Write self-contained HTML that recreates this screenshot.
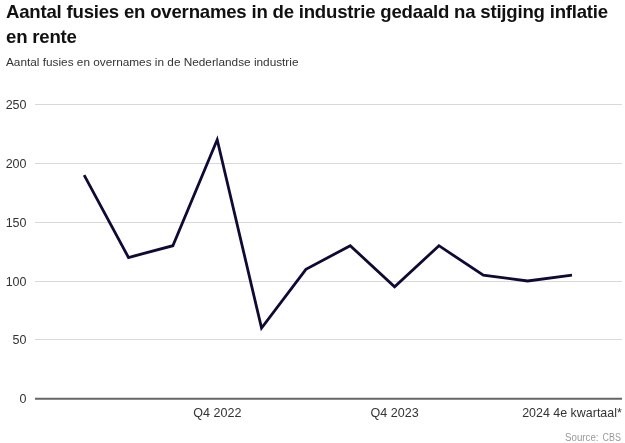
<!DOCTYPE html>
<html><head><meta charset="utf-8">
<style>
html,body{margin:0;padding:0;background:#fff;}
body{width:625px;height:443px;overflow:hidden;position:relative;font-family:"Liberation Sans",Arial,sans-serif;}
#title{position:absolute;left:6px;top:-0.3px;font-weight:bold;font-size:18.6px;line-height:24.8px;letter-spacing:-0.21px;color:#111;margin:0;white-space:nowrap;}
#sub{position:absolute;left:6px;top:54px;font-size:11.8px;line-height:16px;color:#333;white-space:nowrap;}
svg{position:absolute;left:0;top:0;will-change:transform;}
#title,#sub{will-change:transform;}
.yl{font-size:12.5px;fill:#333;text-anchor:end;}
.xl{font-size:12.2px;fill:#333;}
.src{font-size:10px;fill:#999;}
</style></head><body>
<div id="title">Aantal fusies en overnames in de industrie gedaald na stijging inflatie<br>en rente</div>
<div id="sub">Aantal fusies en overnames in de Nederlandse industrie</div>
<svg width="625" height="443" viewBox="0 0 625 443">
<g stroke="#d9d9d9" stroke-width="1">
<line x1="35" x2="622" y1="104.5" y2="104.5"/>
<line x1="35" x2="622" y1="163.5" y2="163.5"/>
<line x1="35" x2="622" y1="222.5" y2="222.5"/>
<line x1="35" x2="622" y1="281.5" y2="281.5"/>
<line x1="35" x2="622" y1="339.5" y2="339.5"/>
</g>
<line x1="35" x2="622" y1="398.8" y2="398.8" stroke="#666" stroke-width="2"/>
<g class="yl">
<text x="26.5" y="109">250</text>
<text x="26.5" y="168">200</text>
<text x="26.5" y="227">150</text>
<text x="26.5" y="286">100</text>
<text x="26.5" y="344">50</text>
<text x="26.5" y="403">0</text>
</g>
<polyline fill="none" stroke="#0f0a33" stroke-width="2.8" stroke-linejoin="miter" points="84.15,175.1 128.50,257.5 172.85,245.7 217.20,139.7 261.55,328.1 305.90,269.3 350.25,245.7 394.60,286.9 438.95,245.7 483.30,275.2 527.65,281.0 572.00,275.2"/>
<text class="xl" x="217.4" y="416.6" text-anchor="middle" textLength="48.2" lengthAdjust="spacingAndGlyphs">Q4 2022</text>
<text class="xl" x="394.6" y="416.6" text-anchor="middle" textLength="48.2" lengthAdjust="spacingAndGlyphs">Q4 2023</text>
<text class="xl" x="522.2" y="416.6" textLength="99.6" lengthAdjust="spacingAndGlyphs">2024 4e kwartaal*</text>
<text class="src" x="565" y="441" textLength="33.5" lengthAdjust="spacingAndGlyphs">Source:</text><text class="src" x="602.6" y="441" textLength="18.2" lengthAdjust="spacingAndGlyphs">CBS</text>
</svg>
</body></html>
